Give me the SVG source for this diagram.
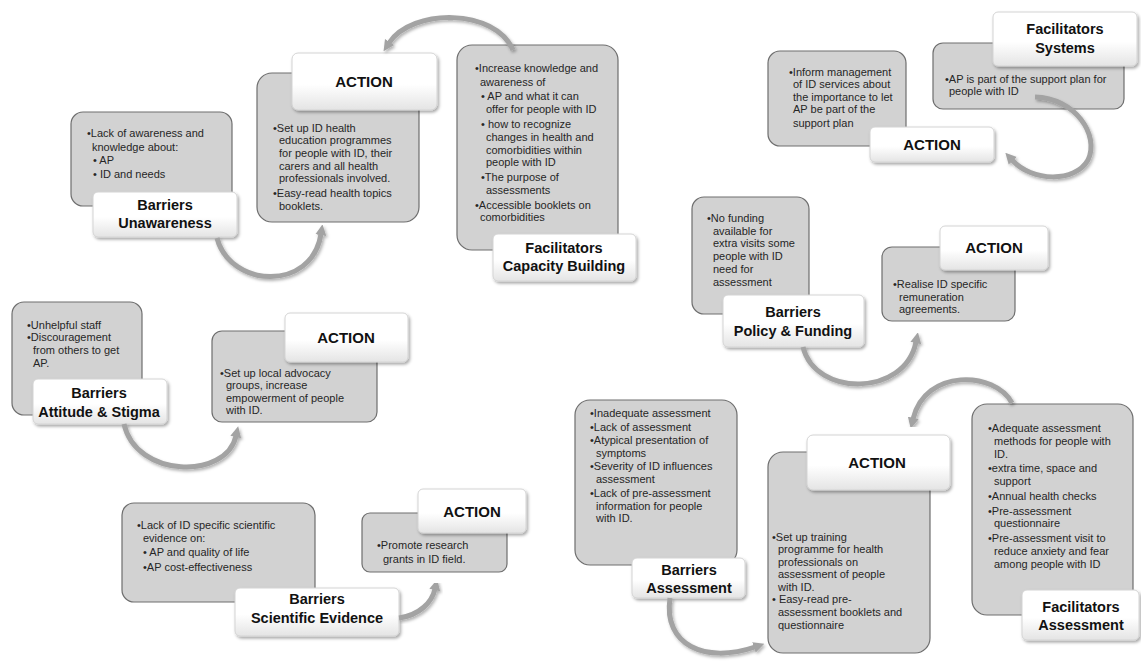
<svg xmlns="http://www.w3.org/2000/svg" width="1141" height="661" viewBox="0 0 1141 661">
<defs>
<linearGradient id="wg" x1="0" y1="0" x2="0" y2="1">
<stop offset="0" stop-color="#ffffff"/>
<stop offset="0.55" stop-color="#ffffff"/>
<stop offset="1" stop-color="#e4e4e4"/>
</linearGradient>
<filter id="sh" x="-10%" y="-10%" width="130%" height="140%">
<feDropShadow dx="1.5" dy="2" stdDeviation="1.5" flood-color="#000" flood-opacity="0.35"/>
</filter>
<filter id="ash" x="-20%" y="-20%" width="140%" height="140%">
<feDropShadow dx="1.5" dy="2" stdDeviation="1.5" flood-color="#000" flood-opacity="0.3"/>
</filter>
<marker id="ah" viewBox="0 0 10 10" refX="1" refY="5" markerWidth="2.2" markerHeight="2.4" orient="auto" markerUnits="strokeWidth">
<path d="M0,0 L10,5 L0,10 z" fill="#a3a3a3"/>
</marker>
</defs>
<style>
.box{fill:#d2d2d2;stroke:#6e6e6e;stroke-width:1.2}
.lbl{fill:url(#wg);stroke:#d4d4d4;stroke-width:1;filter:url(#sh)}
.t{font-family:"Liberation Sans",Arial,sans-serif;font-size:11px;fill:#262626}
.h{font-family:"Liberation Sans",Arial,sans-serif;font-size:14.5px;font-weight:bold;fill:#111;text-anchor:middle}
.a{font-family:"Liberation Sans",Arial,sans-serif;font-size:15px;font-weight:bold;fill:#111;text-anchor:middle}
.arr{fill:none;stroke:#a3a3a3;stroke-width:5;marker-end:url(#ah);filter:url(#ash)}
</style>
<rect width="1141" height="661" fill="#ffffff"/>

<!-- Unawareness -->
<g id="barriers-unawareness">
<rect class="box" x="71" y="112" width="161" height="94" rx="12"/>
<text class="t" x="87" y="137">•Lack of awareness and</text>
<text class="t" x="92" y="151">knowledge about:</text>
<text class="t" x="93" y="164">• AP</text>
<text class="t" x="93" y="178">• ID and needs</text>
<rect class="lbl" x="93" y="192" width="144" height="45" rx="5"/>
<text class="h" x="165" y="210">Barriers</text>
<text class="h" x="165" y="228">Unawareness</text>
</g>

<g id="action-unawareness">
<rect class="box" x="257" y="73" width="162" height="149" rx="15"/>
<text class="t" x="273" y="132">•Set up ID health</text>
<text class="t" x="279" y="144">education programmes</text>
<text class="t" x="279" y="157">for people with ID, their</text>
<text class="t" x="279" y="170">carers and all health</text>
<text class="t" x="279" y="182">professionals involved.</text>
<text class="t" x="273" y="197">•Easy-read health topics</text>
<text class="t" x="279" y="210">booklets.</text>
<rect class="lbl" x="292" y="53" width="145" height="57" rx="6"/>
<text class="a" x="364" y="87">ACTION</text>
</g>

<g id="facilitators-capacity">
<rect class="box" x="457" y="45" width="161" height="205" rx="15"/>
<text class="t" x="475" y="72">•Increase knowledge and</text>
<text class="t" x="480" y="86">awareness of</text>
<text class="t" x="481" y="100">• AP and what it can</text>
<text class="t" x="486" y="113">offer for people with ID</text>
<text class="t" x="481" y="128">• how to recognize</text>
<text class="t" x="486" y="141">changes in health and</text>
<text class="t" x="486" y="154">comorbidities within</text>
<text class="t" x="486" y="166">people with ID</text>
<text class="t" x="481" y="181">•The purpose of</text>
<text class="t" x="486" y="194">assessments</text>
<text class="t" x="475" y="209">•Accessible booklets on</text>
<text class="t" x="480" y="221">comorbidities</text>
<rect class="lbl" x="493" y="234" width="143" height="47" rx="5"/>
<text class="h" x="564" y="253">Facilitators</text>
<text class="h" x="564" y="271">Capacity Building</text>
</g>

<!-- Systems -->
<g id="action-systems">
<rect class="box" x="768" y="51" width="138" height="95" rx="12"/>
<text class="t" x="789" y="76">•Inform management</text>
<text class="t" x="793" y="88">of ID services about</text>
<text class="t" x="793" y="101">the importance to let</text>
<text class="t" x="793" y="113">AP be part of the</text>
<text class="t" x="793" y="127">support plan</text>
<rect class="lbl" x="870" y="127" width="124" height="35" rx="5"/>
<text class="a" x="932" y="150">ACTION</text>
</g>

<g id="facilitators-systems">
<rect class="box" x="933" y="43" width="191" height="66" rx="10"/>
<text class="t" x="945" y="83">•AP is part of the support plan for</text>
<text class="t" x="949" y="95">people with ID</text>
<rect class="lbl" x="993" y="12" width="144" height="54" rx="5"/>
<text class="h" x="1065" y="34">Facilitators</text>
<text class="h" x="1065" y="53">Systems</text>
</g>

<!-- Policy & Funding -->
<g id="barriers-policy">
<rect class="box" x="692" y="197" width="117" height="117" rx="12"/>
<text class="t" x="707" y="222">•No funding</text>
<text class="t" x="713" y="235">available for</text>
<text class="t" x="713" y="247">extra visits some</text>
<text class="t" x="713" y="260">people with ID</text>
<text class="t" x="713" y="273">need for</text>
<text class="t" x="713" y="286">assessment</text>
<rect class="lbl" x="723" y="295" width="141" height="52" rx="5"/>
<text class="h" x="793" y="317">Barriers</text>
<text class="h" x="793" y="336">Policy &amp; Funding</text>
</g>

<g id="action-policy">
<rect class="box" x="882" y="247" width="133" height="74" rx="10"/>
<text class="t" x="893" y="288">•Realise ID specific</text>
<text class="t" x="899" y="301">remuneration</text>
<text class="t" x="899" y="313">agreements.</text>
<rect class="lbl" x="940" y="226" width="108" height="44" rx="5"/>
<text class="a" x="994" y="253">ACTION</text>
</g>

<!-- Attitude & Stigma -->
<g id="barriers-attitude">
<rect class="box" x="12" y="302" width="130" height="113" rx="12"/>
<text class="t" x="27" y="329">•Unhelpful staff</text>
<text class="t" x="27" y="341">•Discouragement</text>
<text class="t" x="33" y="354">from others to get</text>
<text class="t" x="33" y="367">AP.</text>
<rect class="lbl" x="33" y="379" width="134" height="45" rx="5"/>
<text class="h" x="99" y="398">Barriers</text>
<text class="h" x="99" y="417">Attitude &amp; Stigma</text>
</g>

<g id="action-attitude">
<rect class="box" x="212" y="331" width="165" height="91" rx="10"/>
<text class="t" x="220" y="377">•Set up local advocacy</text>
<text class="t" x="226" y="389">groups, increase</text>
<text class="t" x="226" y="402">empowerment of people</text>
<text class="t" x="226" y="414">with ID.</text>
<rect class="lbl" x="285" y="313" width="123" height="49" rx="5"/>
<text class="a" x="346" y="343">ACTION</text>
</g>

<!-- Scientific Evidence -->
<g id="barriers-evidence">
<rect class="box" x="122" y="503" width="193" height="99" rx="12"/>
<text class="t" x="137" y="529">•Lack of ID specific scientific</text>
<text class="t" x="143" y="542">evidence on:</text>
<text class="t" x="143" y="556">• AP and quality of life</text>
<text class="t" x="143" y="571">•AP cost-effectiveness</text>
<rect class="lbl" x="235" y="588" width="164" height="48" rx="5"/>
<text class="h" x="317" y="604">Barriers</text>
<text class="h" x="317" y="623">Scientific Evidence</text>
</g>

<g id="action-evidence">
<rect class="box" x="362" y="513" width="145" height="59" rx="8"/>
<text class="t" x="377" y="549">•Promote research</text>
<text class="t" x="383" y="563">grants in ID field.</text>
<rect class="lbl" x="418" y="489" width="108" height="44" rx="5"/>
<text class="a" x="472" y="517">ACTION</text>
</g>

<!-- Assessment -->
<g id="barriers-assessment">
<rect class="box" x="575" y="400" width="162" height="165" rx="15"/>
<text class="t" x="590" y="417">•Inadequate assessment</text>
<text class="t" x="590" y="431">•Lack of assessment</text>
<text class="t" x="590" y="444">•Atypical presentation of</text>
<text class="t" x="596" y="457">symptoms</text>
<text class="t" x="590" y="470">•Severity of ID influences</text>
<text class="t" x="596" y="483">assessment</text>
<text class="t" x="590" y="497">•Lack of pre-assessment</text>
<text class="t" x="596" y="510">information for people</text>
<text class="t" x="596" y="522">with ID.</text>
<rect class="lbl" x="632" y="558" width="113" height="40" rx="5"/>
<text class="h" x="689" y="575">Barriers</text>
<text class="h" x="689" y="593">Assessment</text>
</g>

<g id="action-assessment">
<rect class="box" x="768" y="452" width="162" height="201" rx="15"/>
<text class="t" x="772" y="541">•Set up training</text>
<text class="t" x="778" y="553">programme for health</text>
<text class="t" x="778" y="566">professionals on</text>
<text class="t" x="778" y="578">assessment of people</text>
<text class="t" x="778" y="591">with ID.</text>
<text class="t" x="772" y="603">• Easy-read pre-</text>
<text class="t" x="778" y="616">assessment booklets and</text>
<text class="t" x="778" y="629">questionnaire</text>
<rect class="lbl" x="807" y="435" width="143" height="55" rx="6"/>
<text class="a" x="877" y="468">ACTION</text>
</g>

<g id="facilitators-assessment">
<rect class="box" x="972" y="404" width="161" height="211" rx="15"/>
<text class="t" x="988" y="432">•Adequate assessment</text>
<text class="t" x="994" y="445">methods for people with</text>
<text class="t" x="994" y="458">ID.</text>
<text class="t" x="988" y="472">•extra time, space and</text>
<text class="t" x="994" y="485">support</text>
<text class="t" x="988" y="500">•Annual health checks</text>
<text class="t" x="988" y="515">•Pre-assessment</text>
<text class="t" x="994" y="527">questionnaire</text>
<text class="t" x="988" y="542">•Pre-assessment visit to</text>
<text class="t" x="994" y="555">reduce anxiety and fear</text>
<text class="t" x="994" y="568">among people with ID</text>
<rect class="lbl" x="1022" y="590" width="117" height="50" rx="5"/>
<text class="h" x="1081" y="612">Facilitators</text>
<text class="h" x="1081" y="630">Assessment</text>
</g>

<g id="connectors">
<path class="arr" d="M217,238 C230,288 312,292 321,234"/>
<path class="arr" d="M513,50 C495,8 412,8 389,43"/>
<path class="arr" d="M1035,97 C1075,98 1100,135 1088,160 C1075,183 1032,182 1012,160"/>
<path class="arr" d="M803,347 C815,397 905,397 916,342"/>
<path class="arr" d="M124,424 C136,478 226,480 236,436"/>
<path class="arr" d="M399,618 C420,615 432,602 435,589"/>
<path class="arr" d="M1012,403 C995,371 925,368 913,419"/>
<path class="arr" d="M670,598 C663,645 705,664 755,647"/>
</g>
</svg>
